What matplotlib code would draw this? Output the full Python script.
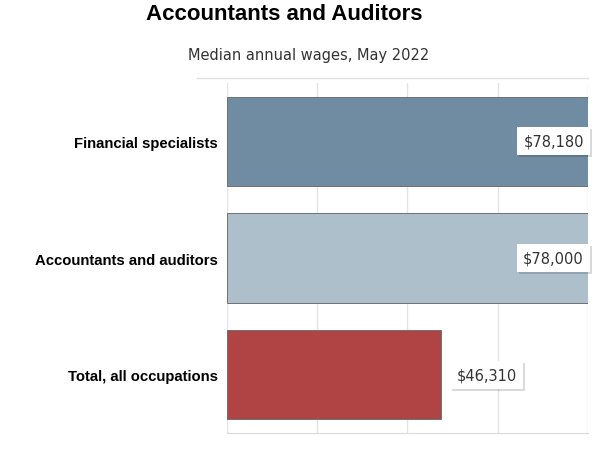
import matplotlib.pyplot as plt
import matplotlib.patheffects as pe
from matplotlib.lines import Line2D

categories = ['Financial specialists', 'Accountants and auditors', 'Total, all occupations']
wages = [78180, 78000, 46310]
value_labels = ['$78,180', '$78,000', '$46,310']
colors = ['#6f8ca3', '#adbfcb', '#b04343']

fig = plt.figure(figsize=(6, 4.56), dpi=100)
ax = fig.add_axes([0.378, 0.048, 0.602, 0.768])

y = list(range(len(categories)))
ax.barh(y, wages, height=0.763, color=colors, edgecolor='#707070', linewidth=0.7, zorder=2)

xmax = 78000
ax.set_xlim(0, xmax)
ax.set_ylim(2.5, -0.5)
ax.set_xticks([xmax / 4 * i for i in range(5)])
ax.set_xticklabels([])
ax.tick_params(length=0)
ax.grid(axis='x', color='#e4e4e4', linewidth=1, zorder=0)
ax.set_yticks(y)
ax.set_yticklabels(categories, fontsize=10.7, fontweight='bold', family='Liberation Sans')
ax.tick_params(axis='y', pad=6.5)
for s in ['left', 'right', 'top']:
    ax.spines[s].set_visible(False)
ax.spines['bottom'].set_color('#d9d9d9')

# thin separator line above the plot area
fig.add_artist(Line2D([197 / 600, 588 / 600], [1 - 78.5 / 456] * 2, color='#e0e0e0', linewidth=1))

for i, (v, lab) in enumerate(zip(wages, value_labels)):
    if v > 0.8 * xmax:
        t = ax.annotate(lab, (xmax, i), xytext=(-3, 0), textcoords='offset points',
                        ha='right', va='center', fontsize=10.5, color='#333333',
                        bbox=dict(boxstyle='square,pad=0.45', fc='white', ec='none'),
                        zorder=4, annotation_clip=False)
    else:
        t = ax.annotate(lab, (v, i), xytext=(11, 0), textcoords='offset points',
                        ha='left', va='center', fontsize=10.5, color='#333333',
                        bbox=dict(boxstyle='square,pad=0.45', fc='white', ec='none'),
                        zorder=4)
    t.get_bbox_patch().set_path_effects([
        pe.SimplePatchShadow(offset=(1.5, -1.5), shadow_rgbFace='#000000', alpha=0.15),
        pe.Normal()])

fig.text(0.474, 0.968, 'Accountants and Auditors', ha='center', va='center',
         fontsize=16, fontweight='bold', family='Liberation Sans')
fig.text(0.515, 0.878, 'Median annual wages, May 2022', ha='center', va='center',
         fontsize=10.5, color='#333333')

fig.savefig('out.png', dpi=100)
